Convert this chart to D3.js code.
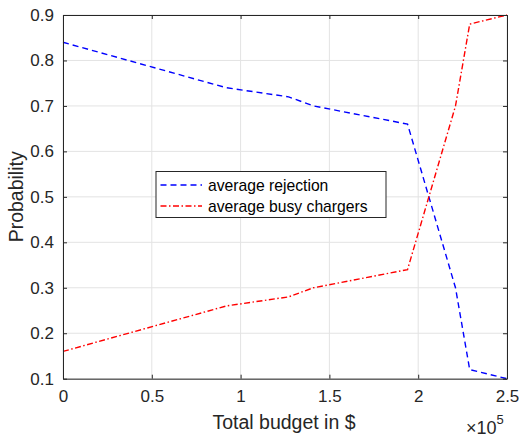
<!DOCTYPE html>
<html><head><meta charset="utf-8">
<script src="https://cdn.jsdelivr.net/npm/d3@7"></script>
<style>
html,body{margin:0;padding:0;background:#fff;}
svg{display:block;font-family:"Liberation Sans",Arial,Helvetica,sans-serif;}
</style></head>
<body>
<svg id="chart" width="519" height="438"></svg>
<script>
const budget = [0, 92000, 127000, 141000, 194000, 221000, 229000, 250000];
const rejection = [0.84, 0.74, 0.72, 0.70, 0.66, 0.30, 0.12, 0.10];
const busyChargers = [0.16, 0.26, 0.28, 0.30, 0.34, 0.70, 0.88, 0.90];
const xTicks = [0, 50000, 100000, 150000, 200000, 250000];
const xTickLabels = ["0", "0.5", "1", "1.5", "2", "2.5"];
const yTicks = [0.1, 0.2, 0.3, 0.4, 0.5, 0.6, 0.7, 0.8, 0.9];
const seriesNames = ["average rejection", "average busy chargers"];

const svg = d3.select("#chart");
const L = 63, R = 507, T = 15, B = 378.7;
const x = d3.scaleLinear().domain([0, 250000]).range([L, R]);
const y = d3.scaleLinear().domain([0.1, 0.9]).range([B, T]);
const axisCol = "#262626", gridCol = "#e3e3e3";

// grid
const g = svg.append("g");
g.selectAll(".gx").data(xTicks).join("line")
  .attr("x1", d => x(d)).attr("x2", d => x(d)).attr("y1", T).attr("y2", B)
  .attr("stroke", gridCol).attr("stroke-width", 1);
g.selectAll(".gy").data(yTicks).join("line")
  .attr("y1", d => y(d)).attr("y2", d => y(d)).attr("x1", L).attr("x2", R)
  .attr("stroke", gridCol).attr("stroke-width", 1);

// lines
const lineR = d3.line().x((d, i) => x(budget[i])).y(d => y(d));
svg.append("path").datum(rejection).attr("d", lineR)
  .attr("fill", "none").attr("stroke", "#0000ff").attr("stroke-width", 1.4)
  .attr("stroke-dasharray", "6,4");
svg.append("path").datum(busyChargers).attr("d", lineR)
  .attr("fill", "none").attr("stroke", "#ff0000").attr("stroke-width", 1.4)
  .attr("stroke-dasharray", "6,2.5,1.5,2.5");

// axes
const fmtX = (d, i) => xTickLabels[i];
const ax = svg.append("g").attr("transform", `translate(0,${B})`)
  .call(d3.axisBottom(x).tickValues(xTicks).tickFormat(fmtX).tickSizeInner(-4).tickSizeOuter(0).tickPadding(11));
const axT = svg.append("g").attr("transform", `translate(0,${T})`)
  .call(d3.axisTop(x).tickValues(xTicks).tickFormat("").tickSizeInner(-4).tickSizeOuter(0));
const ay = svg.append("g").attr("transform", `translate(${L},0)`)
  .call(d3.axisLeft(y).tickValues(yTicks).tickFormat(d3.format(".1f")).tickSizeInner(-4).tickSizeOuter(0).tickPadding(9));
const ayR = svg.append("g").attr("transform", `translate(${R},0)`)
  .call(d3.axisRight(y).tickValues(yTicks).tickFormat("").tickSizeInner(-4).tickSizeOuter(0));
[ax, axT, ay, ayR].forEach(a => {
  a.select(".domain").attr("stroke", axisCol).attr("stroke-width", 1);
  a.selectAll(".tick line").attr("stroke", axisCol);
  a.selectAll(".tick text").attr("fill", axisCol).style("font-size", "17px")
    .style("font-family", "'Liberation Sans',Arial,sans-serif");
});

// axis labels
svg.append("text").attr("x", (L + R) / 2 - 1).attr("y", 429).attr("text-anchor", "middle")
  .attr("fill", axisCol).style("font-size", "19.5px").text("Total budget in $");
svg.append("text").attr("transform", `translate(23,${(T + B) / 2}) rotate(-90)`)
  .attr("text-anchor", "middle").attr("fill", axisCol).style("font-size", "19.5px").text("Probability");
const ex = svg.append("text").attr("x", 466).attr("y", 434).attr("fill", axisCol).style("font-size", "18px");
ex.append("tspan").text("\u00d710");
ex.append("tspan").attr("dy", -10).style("font-size", "13px").text("5");

// legend
const lg = svg.append("g");
lg.append("rect").attr("x", 156).attr("y", 171.5).attr("width", 230).attr("height", 46)
  .attr("fill", "#fff").attr("stroke", axisCol).attr("stroke-width", 1);
const cols = ["#0000ff", "#ff0000"], dashes = ["6,4", "6,2.5,1.5,2.5"];
seriesNames.forEach((n, i) => {
  const yy = 185 + i * 21;
  lg.append("line").attr("x1", 160.5).attr("x2", 202).attr("y1", yy).attr("y2", yy)
    .attr("stroke", cols[i]).attr("stroke-width", 1.4).attr("stroke-dasharray", dashes[i]);
  lg.append("text").attr("x", 208).attr("y", yy + 5.5).attr("fill", "#000")
    .style("font-size", "15.7px").text(n);
});
</script>
</body></html>
